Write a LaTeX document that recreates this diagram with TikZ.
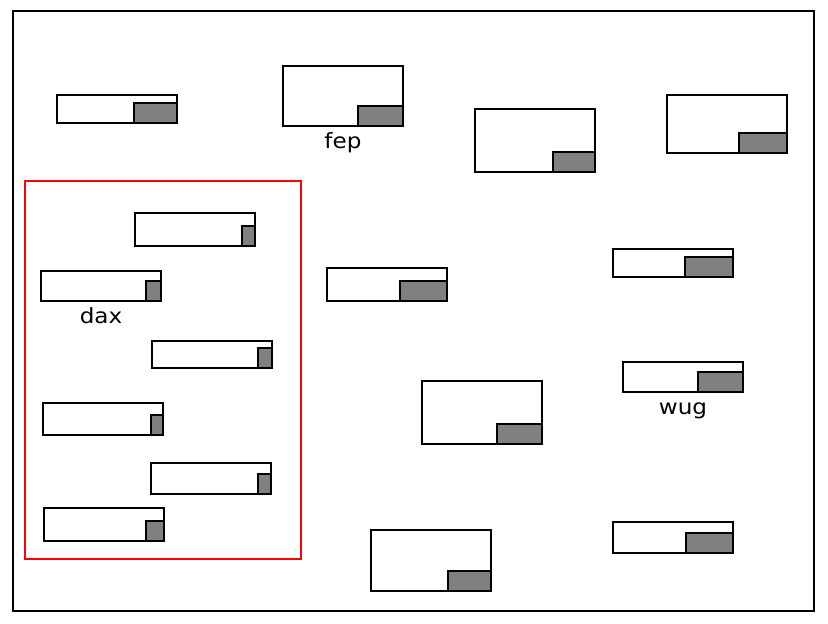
\documentclass[tikz,border=0pt]{standalone}
\usepackage{fontspec}
\newfontfamily\lblfont[FakeStretch=1.1]{DejaVu Sans}
\tikzset{
  boxline/.style={draw=black, line width=1.4pt, fill=white},
  grayline/.style={draw=black, line width=1.4pt, fill=gray},
  lbl/.style={anchor=base, inner sep=0pt, font=\lblfont\fontsize{21pt}{25pt}\selectfont}
}
\newcommand\gbox[6]{%
  \draw[boxline] (#1,#2) rectangle (#3,#4);
  \draw[grayline] (#5,#6) rectangle (#3,#4);
}
\begin{document}
\begin{tikzpicture}[x=1pt,y=-1pt]
\useasboundingbox (0,0) rectangle (828,624);
\draw[line width=2.4pt] (13,11) rectangle (814,611);
\draw[red, line width=1.4pt] (25,181) rectangle (301,559);
\gbox{57}{95}{177}{123}{134}{103}
\gbox{283}{66}{403}{126}{358}{106}
\node[lbl] (fep) at (343,148) {fep};
\gbox{475}{109}{595}{172}{553}{152}
\gbox{667}{95}{787}{153}{739}{133}
\gbox{613}{249}{733}{277}{685}{257}
\gbox{327}{268}{447}{301}{400}{281}
\gbox{135}{213}{255}{246}{242}{226}
\gbox{41}{271}{161}{301}{146}{281}
\node[lbl] (dax) at (101,323) {dax};
\gbox{152}{341}{272}{368}{258}{348}
\gbox{43}{403}{163}{435}{151}{415}
\gbox{151}{463}{271}{494}{258}{474}
\gbox{44}{508}{164}{541}{146}{521}
\gbox{623}{362}{743}{392}{698}{372}
\node[lbl] (wug) at (683,414) {wug};
\gbox{422}{381}{542}{444}{497}{424}
\gbox{371}{530}{491}{591}{448}{571}
\gbox{613}{522}{733}{553}{686}{533}
\end{tikzpicture}
\end{document}
